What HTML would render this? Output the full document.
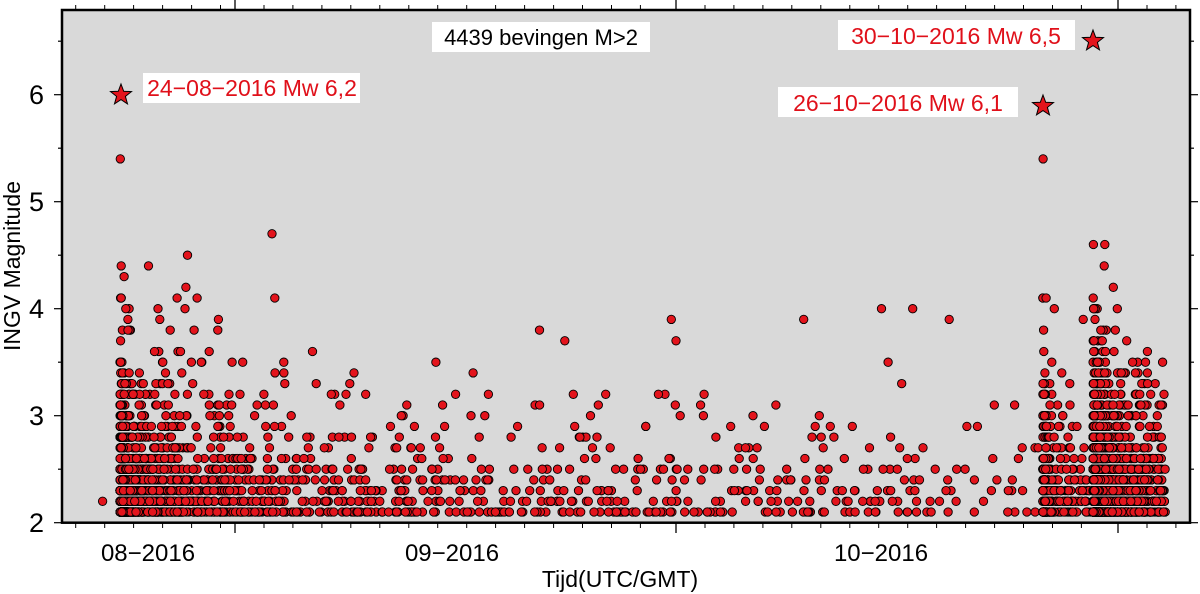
<!DOCTYPE html>
<html><head><meta charset="utf-8"><style>
html,body{margin:0;padding:0;background:#fff;}
svg{display:block;font-family:"Liberation Sans",Arial,sans-serif;}
</style></head><body>
<svg id="s" width="1200" height="594" viewBox="0 0 1200 594" xmlns="http://www.w3.org/2000/svg">
<rect x="62" y="10" width="1128" height="512.7" fill="#d9d9d9"/>
<g id="pts"></g>
<g id="ax" stroke="#000" fill="none"></g>
<rect x="62" y="10" width="1128" height="512.7" fill="none" stroke="#000" stroke-width="2.5"/>
<g font-size="27" fill="#000" text-anchor="end">
<text x="44" y="532">2</text><text x="44" y="425">3</text><text x="44" y="318">4</text><text x="44" y="211">5</text><text x="44" y="104">6</text>
</g>
<g font-size="24" fill="#000" text-anchor="middle">
<text x="148" y="561">08−2016</text><text x="452" y="561">09−2016</text><text x="881" y="561">10−2016</text>
<text x="620" y="587" font-size="23">Tijd(UTC/GMT)</text>
<text transform="translate(20,266) rotate(-90)" font-size="23">INGV Magnitude</text>
</g>
<rect x="432" y="22" width="218" height="30" fill="#fff"/>
<text x="541" y="45" font-size="22" text-anchor="middle" fill="#000">4439 bevingen M&gt;2</text>
<rect x="143" y="73" width="217" height="30" fill="#fff"/>
<text x="252" y="96" font-size="23" text-anchor="middle" fill="#e0101a">24−08−2016 Mw 6,2</text>
<rect x="838" y="20" width="237" height="30" fill="#fff"/>
<text x="956" y="44" font-size="23" text-anchor="middle" fill="#e0101a">30−10−2016 Mw 6,5</text>
<rect x="778" y="87" width="240" height="30" fill="#fff"/>
<text x="898" y="111" font-size="23" text-anchor="middle" fill="#e0101a">26−10−2016 Mw 6,1</text>
<g id="stars"></g>
</svg>
<script>
var seed=12345;function rnd(){seed=(seed*1103515245+12345)%2147483648;return seed/2147483648;}
var PX=14.48,X0=120;
function yM(m){return 522.7-(m-2)*107;}
var pts=[];
function mag(b){var u=rnd();var m=2.1+Math.floor(-Math.log10(u)/b*10)/10;if(m>4.8)m=2.1+Math.floor(rnd()*20)/10;return m;}
function omori(c,T,n,t0){for(var i=0;i<n;i++){var u=rnd();var t=c*Math.pow((T+c)/c,u)-c;pts.push([t0+t,mag(1.2)]);}}
omori(0.08,63.5,2150,0);
omori(0.05,3.5,330,63.73);
omori(0.06,5.0,1950,67.2);
pts.push([-1.2,2.2]);pts.push([0.02,5.4]);pts.push([63.75,5.4]);
var h="";
for(var i=0;i<pts.length;i++){var x=X0+pts[i][0]*PX;if(x>1166)x=1160+rnd()*5;
h+='<circle cx="'+x.toFixed(1)+'" cy="'+yM(pts[i][1]).toFixed(1)+'" r="4.2" fill="#e3141c" stroke="#000" stroke-width="0.9"/>';}
document.getElementById("pts").innerHTML=h;
function star(cx,cy,r){var p=[];for(var k=0;k<10;k++){var a=-Math.PI/2+k*Math.PI/5;var rr=k%2?r*0.42:r;p.push((cx+rr*Math.cos(a)).toFixed(1)+","+(cy+rr*Math.sin(a)).toFixed(1));}
return '<polygon points="'+p.join(" ")+'" fill="#e3141c" stroke="#000" stroke-width="1"/>';}
document.getElementById("stars").innerHTML=star(121,95,11)+star(1043,106,11)+star(1093,41,11);
var a="";
function ln(x1,y1,x2,y2,w){a+='<line x1="'+x1+'" y1="'+y1+'" x2="'+x2+'" y2="'+y2+'" stroke-width="'+w+'"/>';}
var months=[235-31*PX,235,676,1118,1118+30*PX];
for(var m=0;m<4;m++){var s=months[m],e=months[m+1];
 if(s>62&&s<1190){ln(s,522.7,s,533,1.3);ln(s,10,s,-1,1.3);}
 for(var x=s+2*PX;x<e-PX*0.9;x+=2*PX){if(x>62&&x<1190){ln(x.toFixed(1),522.7,x.toFixed(1),528,1);ln(x.toFixed(1),10,x.toFixed(1),5,1);}}}
for(var v=2;v<=6.5;v+=0.5){var y=yM(v).toFixed(1);var L=(v%1==0)?8:4;ln(62,y,62-L,y,1.2);ln(1190,y,1190+L,y,1.2);}
document.getElementById("ax").innerHTML=a;
</script>
</body></html>
